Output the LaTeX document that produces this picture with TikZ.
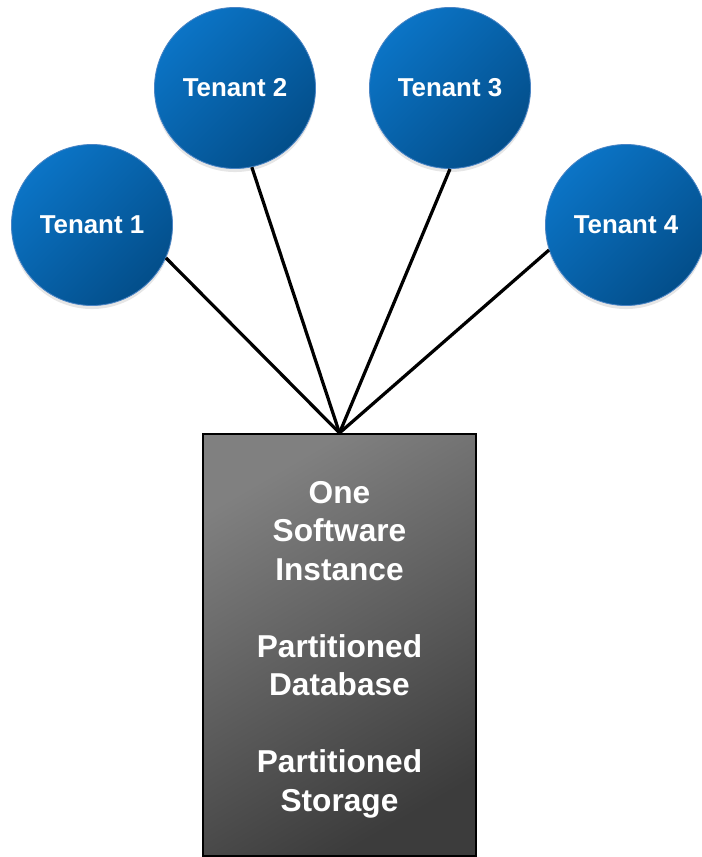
\documentclass[tikz,border=0pt]{standalone}
\usepackage{fontspec}
\setmainfont{Liberation Sans}
\usetikzlibrary{shadows}

\definecolor{tenantlight}{HTML}{0B74C6}
\definecolor{tenantdark}{HTML}{034E8A}
\definecolor{tenantrim}{HTML}{4A84C4}
\definecolor{boxlight}{HTML}{808080}
\definecolor{boxdark}{HTML}{3C3C3C}

\tikzset{
  tenant/.style={circle, minimum size=4.025cm, inner sep=0pt, draw=tenantrim, line width=0.6pt,
    top color=tenantlight, bottom color=tenantdark, shading angle=45, text=white,
    font=\bfseries\fontsize{18.4}{22}\selectfont,
    drop shadow={opacity=0.2, shadow xshift=0pt, shadow yshift=-2.5pt}},
  instance/.style={rectangle, minimum width=6.8cm, minimum height=10.55cm, draw=black, line width=1.4pt,
    top color=boxlight, bottom color=boxdark, shading angle=30, text=white, align=center,
    font=\bfseries\fontsize{22.5}{27.4}\selectfont},
  link/.style={line width=2.3pt, black}
}

\begin{document}
\begin{tikzpicture}[x=0.025cm, y=-0.025cm]
\useasboundingbox (0,0) rectangle (702,857);
% tenants
\node[tenant] (t1) at (92,225) {Tenant 1};
\node[tenant] (t2) at (235,88) {Tenant 2};
\node[tenant] (t3) at (450,88) {Tenant 3};
\node[tenant] (t4) at (626,225) {Tenant 4};
% shared instance
\node[instance] (inst) at (339.5,645) {\rule{0pt}{22pt}One\\Software\\Instance\\[27.4pt]Partitioned\\Database\\[27.4pt]Partitioned\\Storage};
% links
\foreach \t/\a in {t1/-24,t2/-78,t3/-90,t4/-162} {
\draw[link] (\t.\a) -- (inst.north);
}
\end{tikzpicture}
\end{document}
